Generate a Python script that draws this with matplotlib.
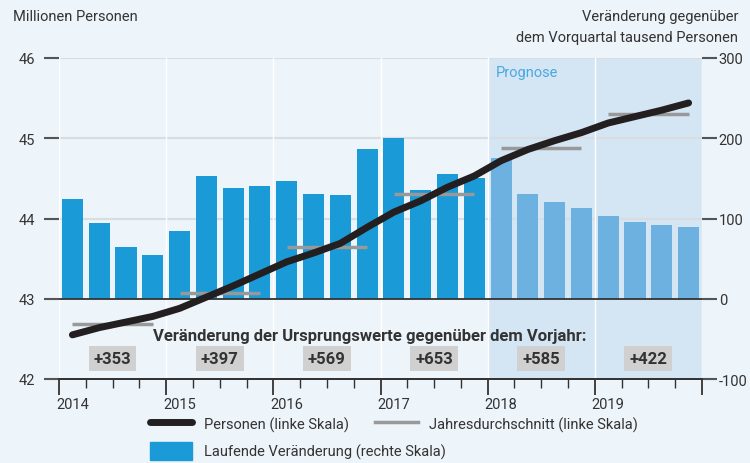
import numpy as np
import matplotlib.pyplot as plt
from matplotlib.lines import Line2D
from matplotlib.patches import Patch

plt.rcParams['font.family'] = ['Roboto', 'DejaVu Sans']
plt.rcParams['axes.unicode_minus'] = False

# --------------------
# Data
# --------------------
years = [2014, 2015, 2016, 2017, 2018, 2019]
quarters = np.arange(24)  # 2014Q1 .. 2019Q4

# quarterly change vs previous quarter, thousand persons (right scale)
change = [124, 94, 64, 54,
          84, 153, 138, 140,
          147, 131, 129, 186,
          200, 135, 156, 150,
          176, 130, 121, 113,
          103, 96, 92, 89]

# persons, millions (left scale)
persons = [42.55, 42.64, 42.71, 42.78,
           42.88, 43.02, 43.16, 43.31,
           43.46, 43.57, 43.69, 43.89,
           44.08, 44.22, 44.39, 44.53,
           44.72, 44.86, 44.97, 45.07,
           45.19, 45.27, 45.35, 45.44]

# annual average (left scale)
annual_avg = [42.68, 43.07, 43.64, 44.30, 44.88, 45.30]

# change of original values vs previous year
yoy_labels = ['+353', '+397', '+569', '+653', '+585', '+422']

forecast_start = 2018

# --------------------
# Styling
# --------------------
bg = '#edf4fa'
band = '#d4e5f4'
bar_hist = '#1a9ad6'
bar_fc = '#6cb1e0'
line_col = '#231f20'
avg_col = '#999999'
grid_col = '#d8dde2'
tick_col = '#555555'
text_col = '#333333'

x = np.array(years[0] + (quarters + 0.5) / 4)

fig = plt.figure(figsize=(7.5, 4.64), dpi=100, facecolor=bg)
ax = fig.add_axes([59 / 750, 1 - 380 / 464, (702 - 59) / 750, (380 - 59) / 464])
ax.set_facecolor(bg)
ax2 = ax.twinx()

# bars on ax (right scale), line on ax2 (left scale)
ax.yaxis.tick_right()
ax2.yaxis.tick_left()

ax.set_xlim(2014, 2020)
ax.set_ylim(-100, 300)
ax2.set_ylim(42, 46)

ax.axvspan(forecast_start, 2020, color=band, zorder=0, lw=0)
for yv in [100, 200, 300]:
    ax.axhline(yv, color=grid_col, lw=1.5, zorder=1)
for yr in years + [2020]:
    ax.axvline(yr, color='white', lw=1, zorder=1)

colors = [bar_fc if xi >= forecast_start else bar_hist for xi in x]
ax.bar(x, change, width=0.197, color=colors, zorder=2)
ax.axhline(0, color=text_col, lw=1.3, zorder=3)

# persons line and annual averages
for i, yr in enumerate(years):
    ax2.plot([yr + 0.125, yr + 0.875], [annual_avg[i]] * 2, color=avg_col,
             lw=2.5, zorder=4, solid_capstyle='butt')
ax2.plot(x, persons, color=line_col, lw=5, zorder=5, solid_capstyle='round')

# axes / ticks
for a in (ax, ax2):
    for s in ['top', 'left', 'right']:
        a.spines[s].set_visible(False)
    a.spines['bottom'].set_color(text_col)
    a.spines['bottom'].set_linewidth(1.3)

ax.set_yticks([-100, 0, 100, 200, 300])
ax.tick_params(axis='y', right=True, left=False, length=11, width=1.5,
               color=tick_col, labelsize=10.5, labelcolor=text_col, pad=1)
ax2.set_yticks([42, 43, 44, 45, 46])
ax2.tick_params(axis='y', left=True, right=False, length=11, width=1.5,
                color=tick_col, labelsize=10.5, labelcolor=text_col, pad=6)

ax.set_xticks(years + [2020])
ax.set_xticklabels([])
ax.set_xticks(x - 0.125, minor=True)
ax.tick_params(axis='x', which='major', length=11.5, width=1.3, color=text_col)
ax.tick_params(axis='x', which='minor', length=6.5, width=1.0, color=text_col)
for yr in years:
    ax.text(yr + 0.125, -0.055, str(yr), transform=ax.get_xaxis_transform(),
            ha='center', va='top', fontsize=10.5, color=text_col)

# axis titles
fig.text(13 / 750, 1 - 17 / 464, 'Millionen Personen', ha='left', va='center',
         fontsize=10.5, color=text_col)
fig.text(738 / 750, 1 - 17 / 464, 'Veränderung gegenüber', ha='right',
         va='center', fontsize=10.5, color=text_col)
fig.text(738 / 750, 1 - 38 / 464, 'dem Vorquartal tausend Personen', ha='right',
         va='center', fontsize=10.5, color=text_col)

ax.text(forecast_start + 0.08, 282, 'Prognose', ha='left', va='center',
        fontsize=10.5, color='#4aa8e0', zorder=6)

# year-on-year annotations
ax2.text(2016.9, 42.54, 'Veränderung der Ursprungswerte gegenüber dem Vorjahr:',
         ha='center', va='center', fontsize=12, fontweight='bold',
         color=text_col, zorder=6)
for yr, lab in zip(years, yoy_labels):
    ax2.text(yr + 0.5, 42.25, lab, ha='center', va='center', fontsize=12,
             fontweight='bold', color=text_col, zorder=6,
             bbox=dict(boxstyle='square,pad=0.3', fc='#d0d0d0', ec='none'))

# legend: first row two line items, second row the bar item
leg_kw = dict(frameon=False, fontsize=10.5, handlelength=2.9, handleheight=1.6,
              columnspacing=1.8, handletextpad=0.8, labelcolor=text_col,
              borderaxespad=0, borderpad=0)
leg1 = fig.legend([Line2D([], [], color=line_col, lw=5, solid_capstyle='round'),
                   Line2D([], [], color=avg_col, lw=2.5)],
                  ['Personen (linke Skala)', 'Jahresdurchschnitt (linke Skala)'],
                  ncol=2, loc='center left',
                  bbox_to_anchor=(150 / 750, 1 - 425 / 464), **leg_kw)
leg2 = fig.legend([Patch(color=bar_hist)],
                  ['Laufende Veränderung (rechte Skala)'],
                  loc='center left',
                  bbox_to_anchor=(150 / 750, 1 - 452 / 464), **leg_kw)

fig.savefig('out.png', dpi=100, facecolor=bg)
